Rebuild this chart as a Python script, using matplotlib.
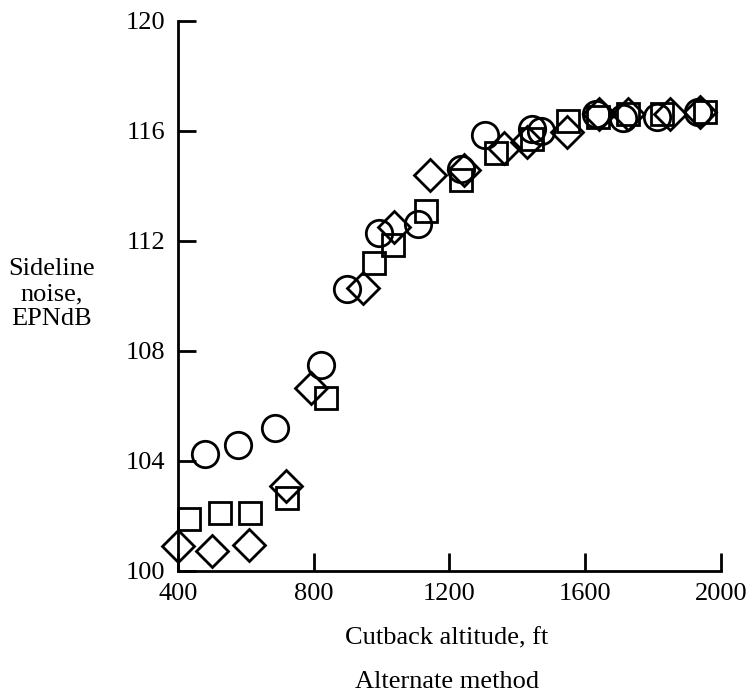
#!/usr/bin/env python3
"""Sideline noise vs cutback altitude (alternate method) - scatter recreation."""

import matplotlib
matplotlib.use('Agg')
import matplotlib.pyplot as plt

# values
circle_alt = [479, 577, 687, 821, 899, 991, 1108, 1235, 1306, 1443, 1469,
              1631, 1712, 1811, 1931]
circle_noise = [104.26, 104.58, 105.2, 107.5, 110.24, 112.3, 112.6, 114.6,
                115.86, 116.07, 116.0, 116.6, 116.47, 116.5, 116.7]

square_alt = [431, 524, 612, 722, 835, 977, 1033, 1132, 1234, 1337, 1443,
              1549, 1638, 1726, 1825, 1952]
square_noise = [101.9, 102.1, 102.1, 102.67, 106.3, 111.2, 111.86, 113.1,
                114.2, 115.2, 115.7, 116.36, 116.5, 116.6, 116.6, 116.7]

diamond_alt = [400, 500, 609, 719, 793, 944, 1036, 1142, 1242, 1361, 1429,
               1546, 1641, 1726, 1850, 1937]
diamond_noise = [100.9, 100.73, 100.94, 103.1, 106.65, 110.3, 112.5, 114.4,
                 114.58, 115.37, 115.6, 115.95, 116.6, 116.6, 116.6, 116.7]

x_ticks = [400, 800, 1200, 1600, 2000]
y_ticks = [100, 104, 108, 112, 116, 120]

plt.rcParams['font.family'] = ['Liberation Serif', 'DejaVu Serif']

fig = plt.figure(figsize=(7.51, 6.98), dpi=100)
ax = fig.add_axes([0.237, 0.182, 0.723, 0.788])

mk = dict(linestyle='none', markerfacecolor='none', markeredgecolor='black',
          markeredgewidth=2.0, clip_on=False)
ax.plot(circle_alt, circle_noise, marker='o', markersize=19, **mk)
ax.plot(square_alt, square_noise, marker='s', markersize=16, **mk)
ax.plot(diamond_alt, diamond_noise, marker='D', markersize=16.5, **mk)

ax.set_xlim(400, 2000)
ax.set_ylim(100, 120)
ax.set_xticks(x_ticks)
ax.set_yticks(y_ticks)
ax.spines['top'].set_visible(False)
ax.spines['right'].set_visible(False)
for s in ('left', 'bottom'):
    ax.spines[s].set_linewidth(2.0)
ax.tick_params(direction='in', length=13, width=2.0, labelsize=19, pad=9)

fig.text(0.069, 1 - 294 / 698, 'Sideline\nnoise,\nEPNdB', ha='center',
         va='center', fontsize=19, linespacing=1.18)
fig.text(447 / 751, 1 - 638 / 698, 'Cutback altitude, ft', ha='center',
         va='center', fontsize=19)
fig.text(447 / 751, 1 - 682 / 698, 'Alternate method', ha='center',
         va='center', fontsize=19)

fig.savefig('out.png', dpi=100)
